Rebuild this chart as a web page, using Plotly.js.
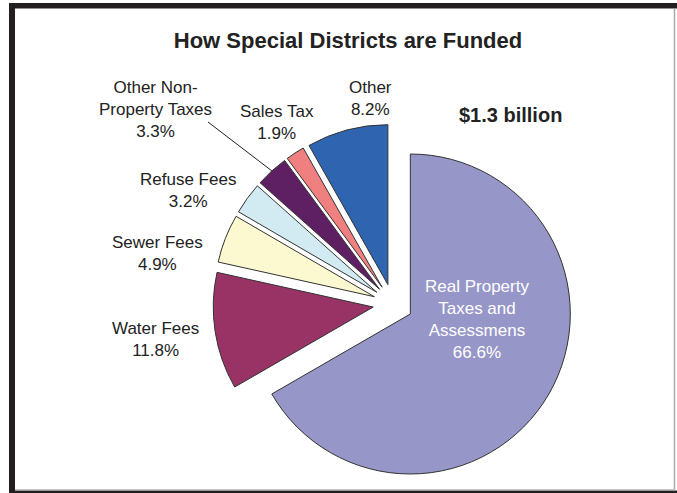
<!DOCTYPE html>
<html>
<head>
<meta charset="utf-8">
<script src="https://cdn.plot.ly/plotly-3.0.1.min.js"></script>
<style>html,body{margin:0;padding:0;background:#fff;}#chart{width:677px;height:493px;}</style>
</head>
<body>
<div id="chart"></div>
<script>
// ---- data ----
const categories = ['Real Property<br>Taxes and<br>Assessmens', 'Water Fees', 'Sewer Fees', 'Refuse Fees',
                    'Other Non-<br>Property Taxes', 'Sales Tax', 'Other'];
const shares = [66.6, 11.8, 4.9, 3.2, 3.3, 1.9, 8.2];
const sliceColors = ['#9696C8', '#993366', '#FCF8D0', '#D2EAF2', '#5E2062', '#F08080', '#2E64B0'];
const chartTitle = 'How Special Districts are Funded';
const totalNote = '$1.3 billion';

// ---- layout helpers (pixel -> paper, margins are 0) ----
const W = 677, H = 493;
const px = x => x / W;
const py = y => 1 - y / H;

// label positions (pixel centers) and colours
const labelPos = [[477, 319], [155, 339], [157, 253], [188, 190], [155, 109], [277, 123], [370, 98]];
const labelColor = ['#ffffff', '#222', '#222', '#222', '#222', '#222', '#222'];

const pull = 0.125;
const cx = 393, cy = 304, r = 160;
const half = r * (1 + pull);

const trace = {
  type: 'pie',
  labels: categories,
  values: shares,
  sort: false,
  direction: 'clockwise',
  rotation: 0,
  pull: shares.map(() => pull),
  marker: {colors: sliceColors, line: {color: '#333', width: 1}},
  textinfo: 'none',
  hoverinfo: 'label+percent',
  showlegend: false,
  domain: {x: [px(cx - half), px(cx + half)], y: [py(cy + half), py(cy - half)]}
};

const font = 'Liberation Sans, Arial, Helvetica, sans-serif';
const annotations = categories.map((c, i) => ({
  xref: 'paper', yref: 'paper',
  x: px(labelPos[i][0]), y: py(labelPos[i][1]),
  xanchor: 'center', yanchor: 'middle',
  text: c + '<br>' + shares[i].toFixed(1) + '%',
  showarrow: false, align: 'center',
  font: {family: font, size: 17, color: labelColor[i]}
}));
annotations.push({
  xref: 'paper', yref: 'paper', x: px(511), y: py(115),
  xanchor: 'center', yanchor: 'middle', showarrow: false,
  text: '<b>' + totalNote + '</b>',
  font: {family: font, size: 20, color: '#222'}
});

const shapes = [
  {type: 'rect', xref: 'paper', yref: 'paper', x0: px(9), x1: px(677), y0: py(3), y1: py(8.5), fillcolor: '#231f20', line: {width: 0}},
  {type: 'rect', xref: 'paper', yref: 'paper', x0: px(9), x1: px(15), y0: py(3), y1: py(493), fillcolor: '#231f20', line: {width: 0}},
  {type: 'rect', xref: 'paper', yref: 'paper', x0: px(9), x1: px(677), y0: py(490.5), y1: py(493), fillcolor: '#231f20', line: {width: 0}},
  {type: 'line', xref: 'paper', yref: 'paper', x0: px(674.5), x1: px(674.5), y0: py(8.5), y1: py(490.5), line: {color: '#aaaaaa', width: 1.5}},
  {type: 'line', xref: 'paper', yref: 'paper', x0: px(15), x1: px(675), y0: py(489.7), y1: py(489.7), line: {color: '#bbbbbb', width: 1}},
  // leader line for Other Non-Property Taxes
  {type: 'line', xref: 'paper', yref: 'paper', x0: px(208), y0: py(122), x1: px(272), y1: py(171), line: {color: '#222', width: 1}}
];

const layout = {
  width: W, height: H,
  margin: {l: 0, r: 0, t: 0, b: 0},
  paper_bgcolor: '#ffffff',
  title: {text: '<b>' + chartTitle + '</b>', x: px(348), y: py(40), xanchor: 'center', yanchor: 'middle',
          font: {family: font, size: 22, color: '#222'}},
  annotations: annotations,
  shapes: shapes
};

Plotly.newPlot('chart', [trace], layout, {displayModeBar: false, staticPlot: true});
</script>
</body>
</html>
